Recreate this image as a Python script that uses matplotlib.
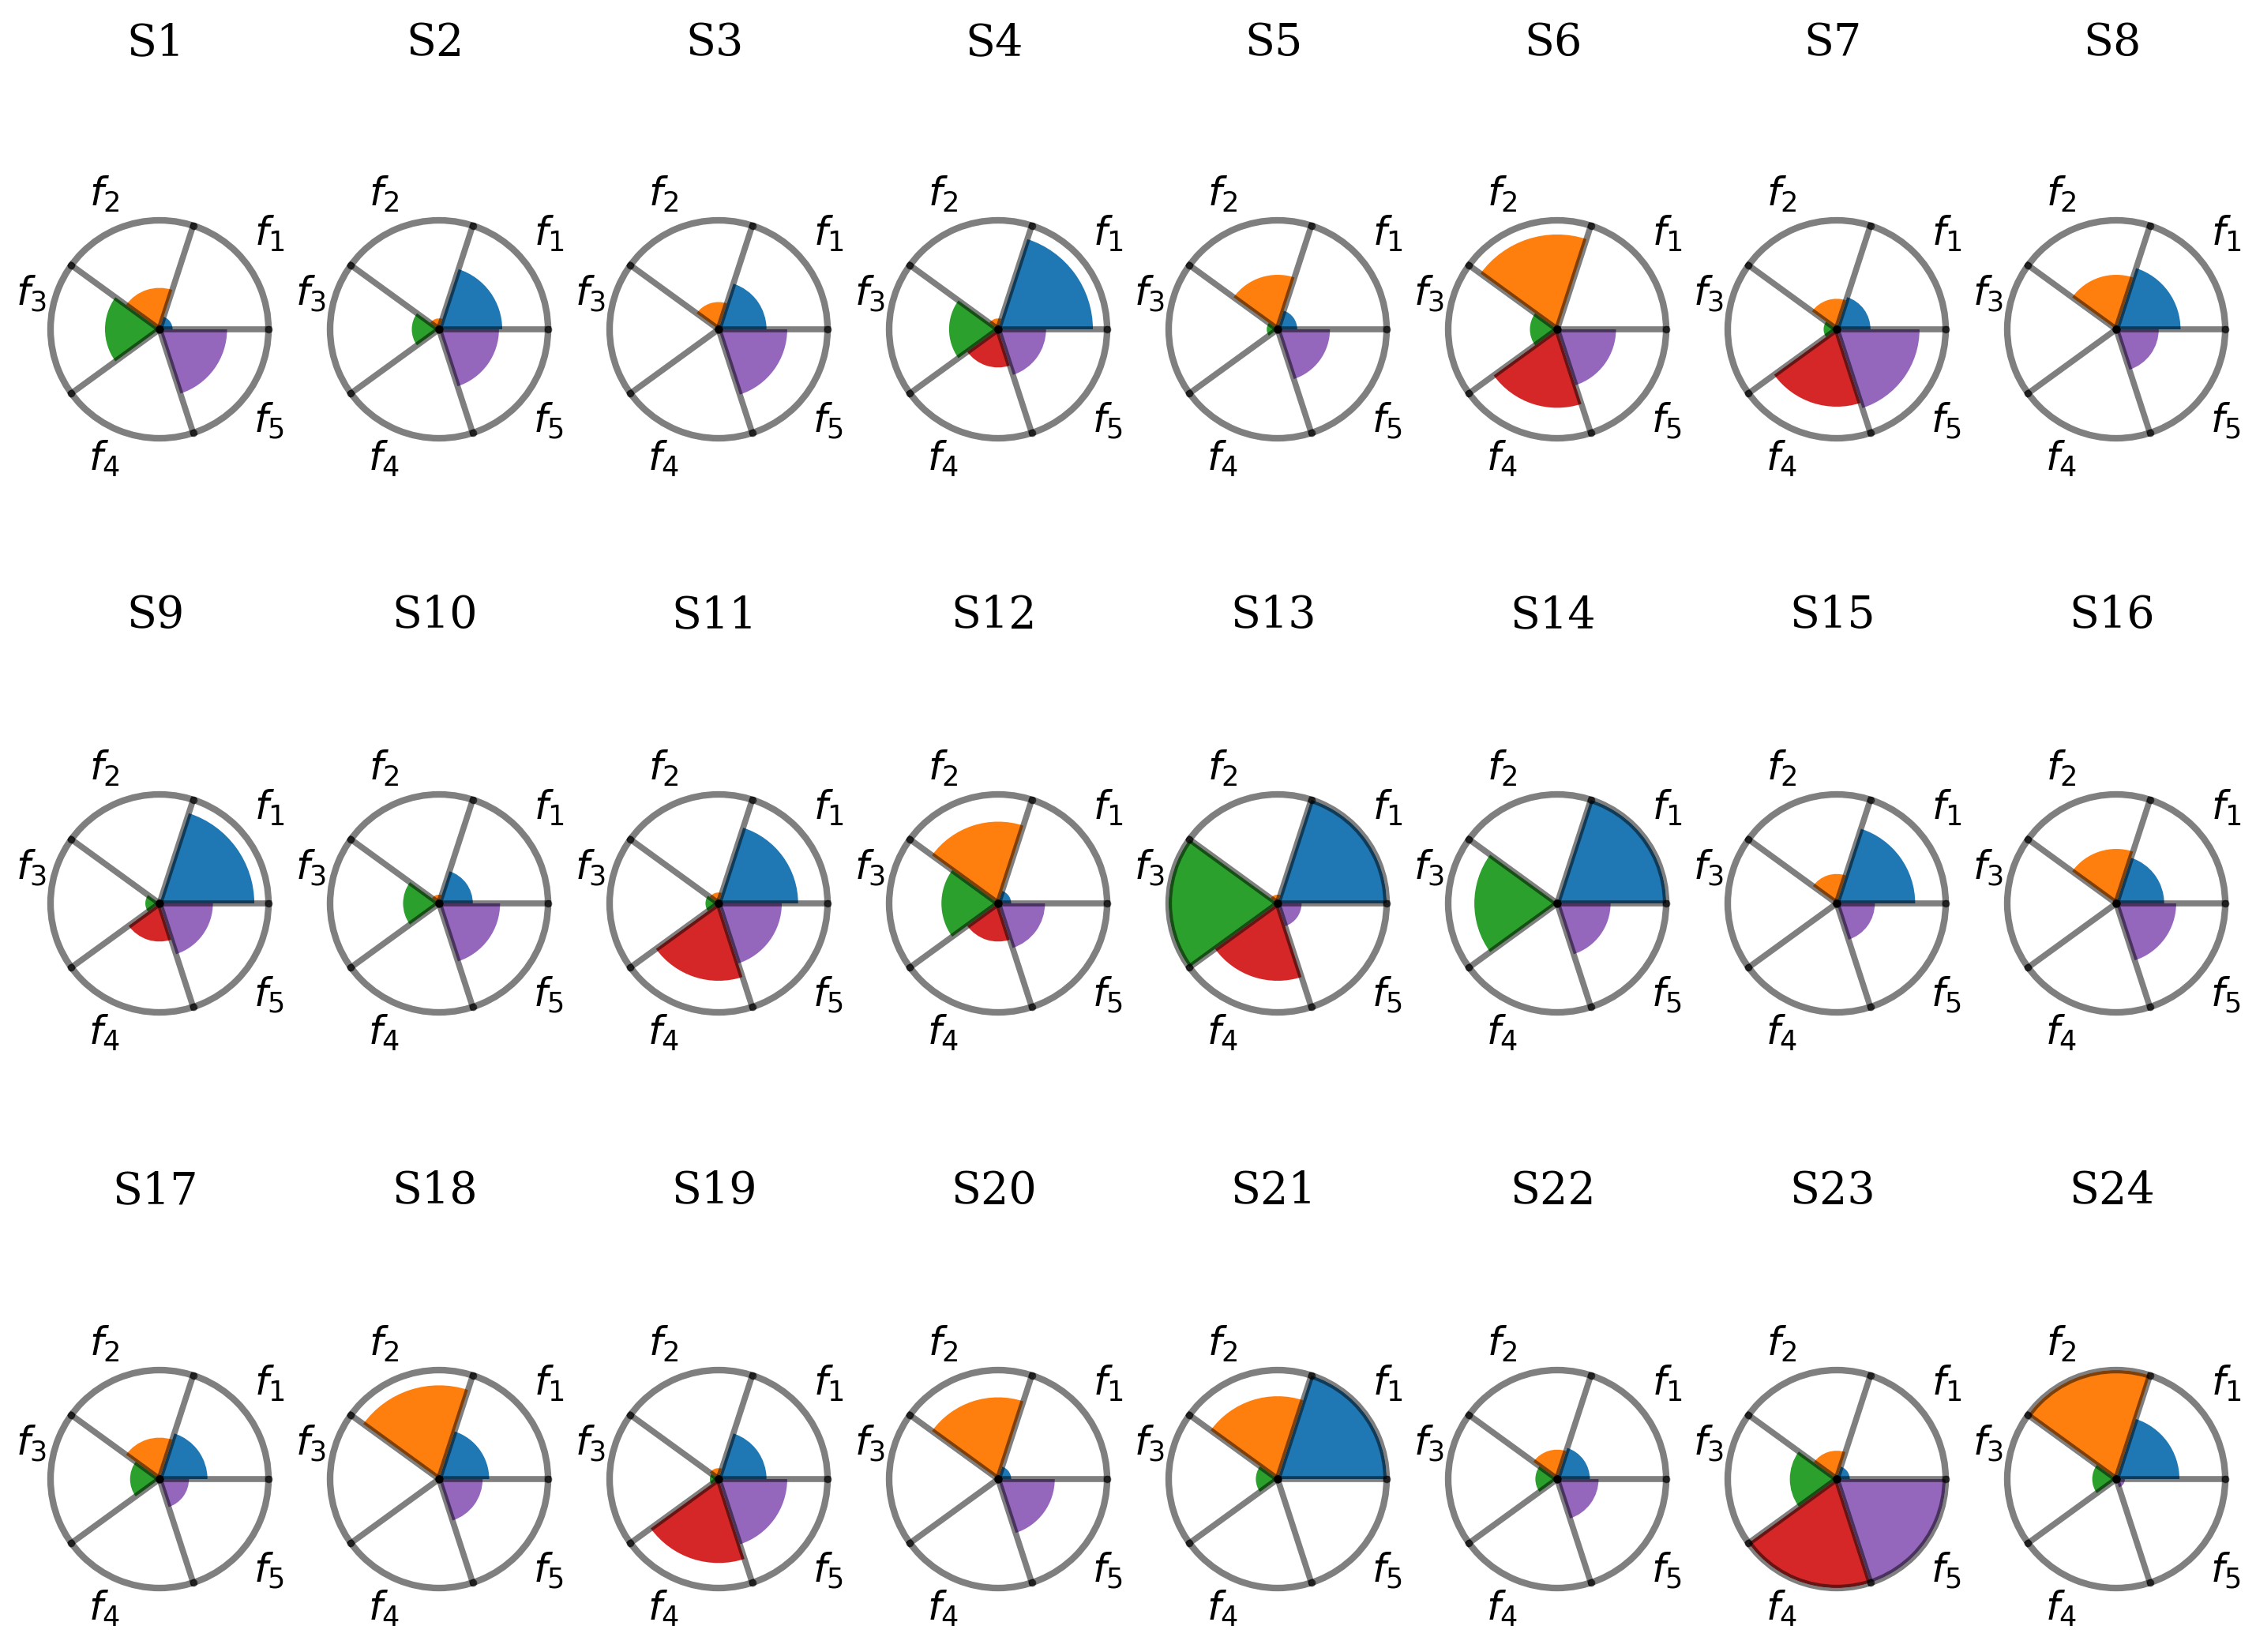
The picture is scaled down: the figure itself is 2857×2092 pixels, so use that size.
import numpy as np
import matplotlib
matplotlib.use("Agg")
import matplotlib.pyplot as plt

# %% Daten (Radius je Merkmal, 0..1)

names = ["S%d" % (i + 1) for i in range(24)]
f1 = [0.12, 0.58, 0.44, 0.87, 0.18, 0.00, 0.31, 0.59,
      0.87, 0.31, 0.73, 0.12, 1.00, 1.00, 0.72, 0.44,
      0.44, 0.46, 0.44, 0.12, 1.00, 0.30, 0.12, 0.58]
f2 = [0.38, 0.10, 0.25, 0.10, 0.50, 0.87, 0.28, 0.50,
      0.00, 0.08, 0.10, 0.75, 0.08, 0.00, 0.27, 0.50,
      0.38, 0.86, 0.10, 0.75, 0.76, 0.27, 0.26, 1.00]
f3 = [0.50, 0.25, 0.00, 0.45, 0.10, 0.25, 0.12, 0.00,
      0.13, 0.33, 0.12, 0.52, 1.00, 0.76, 0.00, 0.00,
      0.27, 0.00, 0.08, 0.00, 0.20, 0.20, 0.43, 0.22]
f4 = [0.00, 0.00, 0.00, 0.35, 0.00, 0.72, 0.71, 0.00,
      0.35, 0.00, 0.71, 0.35, 0.71, 0.00, 0.00, 0.00,
      0.00, 0.00, 0.77, 0.00, 0.00, 0.00, 1.00, 0.00]
f5 = [0.62, 0.55, 0.63, 0.44, 0.48, 0.54, 0.76, 0.39,
      0.49, 0.56, 0.58, 0.43, 0.22, 0.49, 0.35, 0.55,
      0.27, 0.40, 0.63, 0.52, 0.00, 0.38, 1.00, 0.08]
labels = [r"$f_1$", r"$f_2$", r"$f_3$", r"$f_4$", r"$f_5$"]
colors = ["#1f77b4", "#ff7f0e", "#2ca02c", "#d62728", "#9467bd"]

# %% Layout (Pixel)
W, H = 2857, 2092
R = 138                      # Kreisradius in px
x0, dx = 202, 354            # Mittelpunkt erste Spalte, Abstand
row_y = [417, 1144, 1873]    # Kreismitte je Zeile
title_y = [55, 780, 1509]
# Position der Beschriftungen (Winkel in Grad, Radius)
lab_pos = [(41, 1.34), (112, 1.34), (164.5, 1.22), (247, 1.29), (320, 1.31)]

fig = plt.figure(figsize=(W / 100, H / 100), dpi=100)

n = 5
theta = np.arange(n) * 2 * np.pi / n
width = 2 * np.pi / n

for i, name in enumerate(names):
    row, col = divmod(i, 8)
    cx = x0 + col * dx
    cy = row_y[row]
    ax = fig.add_axes([(cx - R) / W, (H - cy - R) / H, 2 * R / W, 2 * R / H],
                      projection="polar")
    vals = [f1[i], f2[i], f3[i], f4[i], f5[i]]
    ax.bar(theta, vals, width=width, align="edge", color=colors,
           linewidth=0, zorder=1)
    # Speichen mit Punkten an den Enden
    for t in theta:
        ax.plot([t, t], [0, 1], color="k", alpha=0.5, lw=5.5,
                marker="o", markersize=6, clip_on=False, zorder=2)
    ax.set_ylim(0, 1)
    ax.set_xticks([])
    ax.set_yticks([])
    ax.grid(False)
    ax.spines["polar"].set_edgecolor((0, 0, 0, 0.5))
    ax.spines["polar"].set_linewidth(6)
    for lab, (ang, rad) in zip(labels, lab_pos):
        ax.text(np.deg2rad(ang), rad, lab, ha="center", va="center",
                fontsize=36, clip_on=False)
    fig.text((cx - 5) / W, 1 - title_y[row] / H, name, ha="center",
             va="center", fontsize=40, family="DejaVu Serif")

fig.savefig("out.png", dpi=100, facecolor="white")
